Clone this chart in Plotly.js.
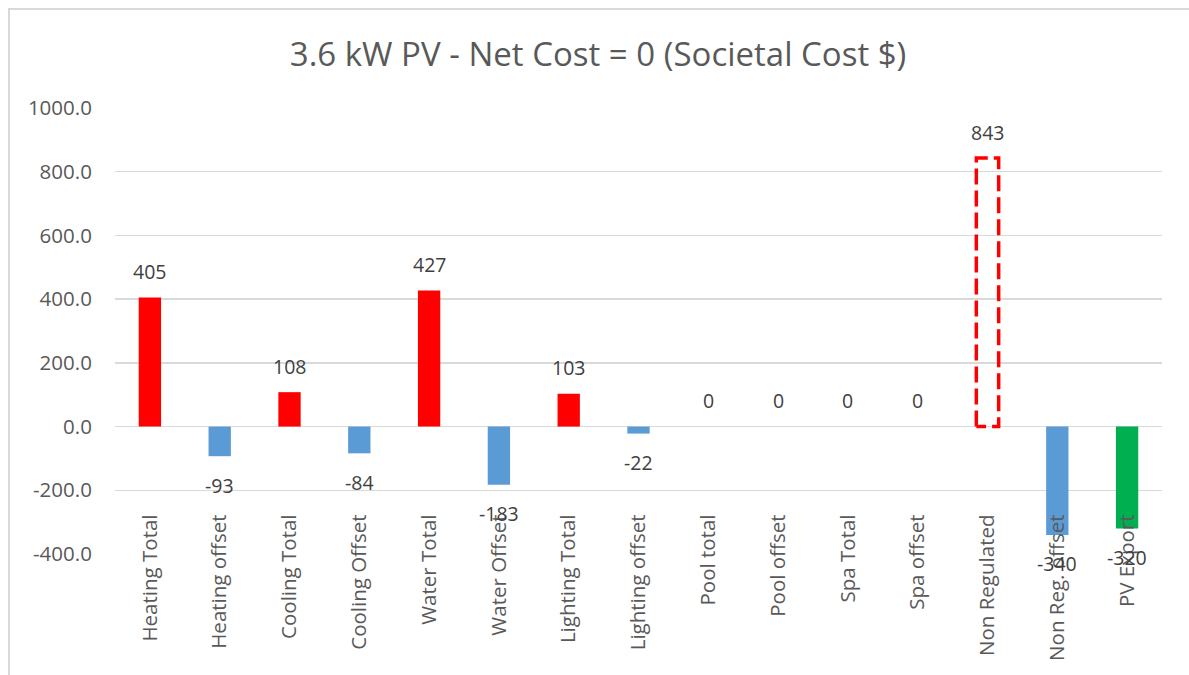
<!DOCTYPE html>
<html>
<head>
<meta charset="utf-8">
<script src="https://cdn.plot.ly/plotly-3.0.1.min.js"></script>
<style>
html,body{margin:0;padding:0;background:#fff;}
#wrap{position:relative;width:1189px;height:675px;}
#chart{position:absolute;left:0;top:0;width:1189px;height:675px;}
#frame{position:absolute;left:8px;top:8px;width:1200px;height:700px;border-left:2px solid #d9d9d9;border-top:2px solid #d9d9d9;pointer-events:none;}
</style>
</head>
<body>
<div id="wrap"><div id="chart"></div><div id="frame"></div></div>
<script>
const categories = ["Heating Total","Heating offset","Cooling Total","Cooling Offset","Water Total","Water Offset","Lighting Total","Lighting offset","Pool total","Pool offset","Spa Total","Spa offset","Non Regulated","Non Reg. offset","PV Export"];
const values = [405,-93,108,-84,427,-183,103,-22,0,0,0,0,843,-340,-320];
const barColors = ["#FF0000","#5B9BD5","#FF0000","#5B9BD5","#FF0000","#5B9BD5","#FF0000","#5B9BD5","#FF0000","#5B9BD5","#FF0000","#5B9BD5","rgba(0,0,0,0)","#5B9BD5","#00B050"];
const outlinedCategory = "Non Regulated";
const yTickVals = [-400,-200,0,200,400,600,800,1000];

const FONT = "'Open Sans', sans-serif";
const idx = categories.map((c,i)=>i);
const BW = 0.32;
const traces = [{
  type:"bar", x: idx, y: values, width: BW,
  marker:{color: barColors}, hoverinfo:"x+y", showlegend:false
}];
const oi = categories.indexOf(outlinedCategory);
const ov = values[oi];
traces.push({
  type:"scatter", mode:"lines", showlegend:false, hoverinfo:"skip",
  x:[oi-BW/2, oi-BW/2, oi+BW/2, oi+BW/2, oi-BW/2],
  y:[0, ov, ov, 0, 0],
  line:{color:"#FF0000", width:3.5, dash:"16px,6px"}
});

const annotations = values.map((v,i)=>({
  x: i, y: v, xref:"x", yref:"y", text: String(v), showarrow:false,
  yanchor:"middle", yshift: v >= 0 ? 26 : -29,
  font:{family:FONT, size:19.5, color:"#404040"}
}));

const layout = {
  width:1189, height:675,
  margin:{l:115, r:27, t:107.5, b:120.5},
  paper_bgcolor:"#fff", plot_bgcolor:"#fff",
  title:{text:"3.6 kW PV - Net Cost = 0 (Societal Cost $)", x:0.503, xref:"container", xanchor:"center", y:0.92, yanchor:"middle",
    font:{family:FONT, size:33, color:"#595959"}},
  xaxis:{
    range:[-0.5, categories.length-0.5], tickmode:"array", tickvals: idx, ticktext: categories,
    tickangle:-90, showgrid:false, zeroline:false, showline:false, ticks:"",
    anchor:"free", position:0.1,
    tickfont:{family:FONT, size:20.5, color:"#595959"}
  },
  yaxis:{
    range:[-400,1000], tickvals: yTickVals, ticktext: yTickVals.map(v=>v.toFixed(1)),
    showgrid:true, gridcolor:"#d9d9d9", gridwidth:1.3,
    zeroline:true, zerolinecolor:"#d9d9d9", zerolinewidth:1.3,
    showline:false, ticks:"outside", ticklen:18, tickcolor:"rgba(0,0,0,0)",
    tickfont:{family:FONT, size:20.5, color:"#595959"}
  },
  annotations: annotations,
  font:{family:FONT}
};
Plotly.newPlot("chart", traces, layout, {displayModeBar:false, staticPlot:true});
</script>
</body>
</html>
